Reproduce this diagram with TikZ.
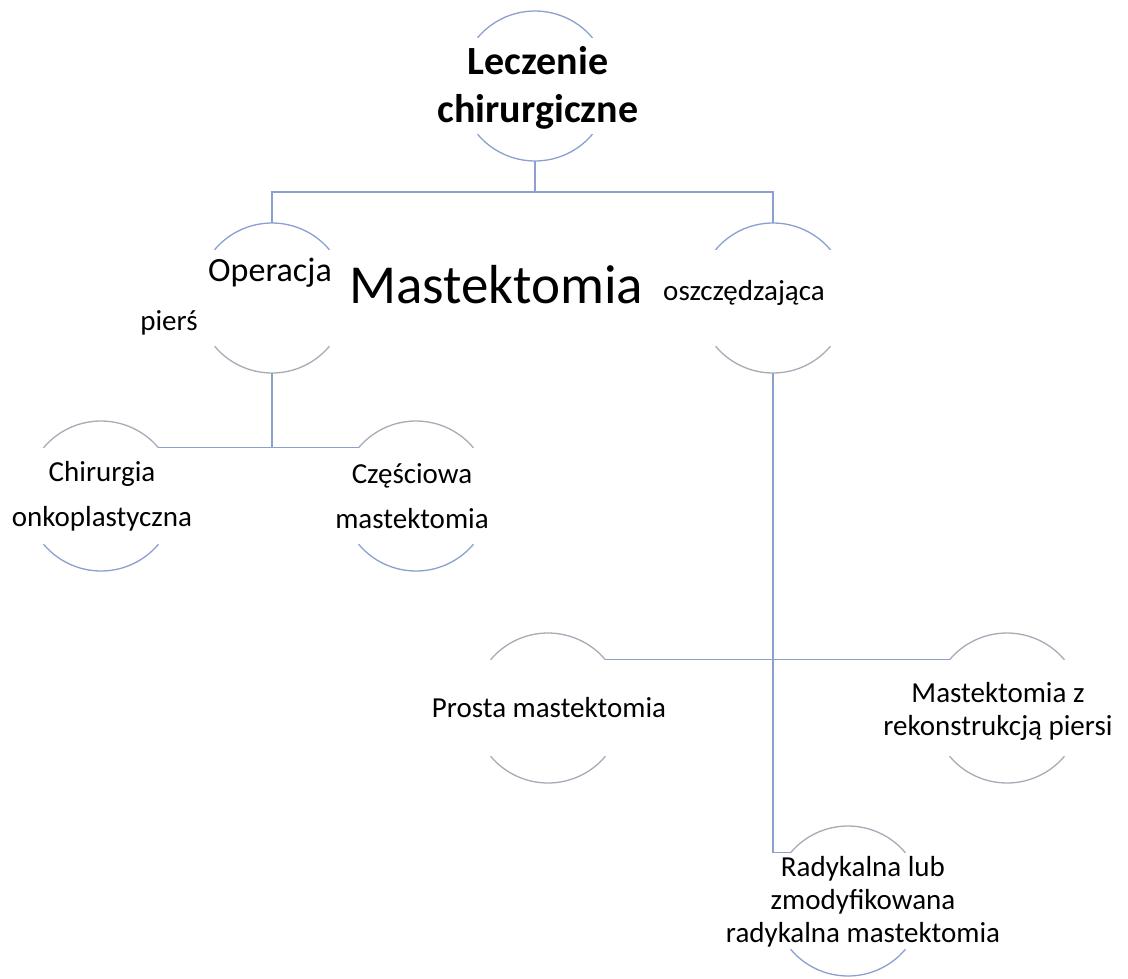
\documentclass[tikz,border=0pt]{standalone}
\usepackage{fontspec}
\setmainfont{Carlito}
\definecolor{linkblue}{RGB}{140,160,205}
\definecolor{arcblue}{RGB}{138,160,208}
\definecolor{arcgray}{RGB}{168,170,182}
% top and bottom arcs of a ring node: #1 node, #2 top colour, #3 bottom colour
\newcommand\ringarcs[3]{%
  \draw[#2,line width=1.3pt] (#1.40) arc[start angle=40,end angle=140,radius=75];
  \draw[#3,line width=1.3pt] (#1.220) arc[start angle=220,end angle=320,radius=75];}
\begin{document}
\begin{tikzpicture}[x=1pt,y=1pt,
  ring/.style={circle,minimum size=150pt,inner sep=0pt,outer sep=0pt,draw=none},
  link/.style={draw=linkblue,line width=1.3pt},
  lbl/.style={inner sep=0pt,align=center,font=\fontsize{29}{33}\selectfont},
  wide/.style={lbl,font=\fontsize{29}{45}\selectfont}]
\useasboundingbox (0,0) rectangle (1128,-978);
\fill[white] (0,0) rectangle (1128,-978);

% rings
\node[ring] (t)   at (535,-86)  {};
\node[ring] (op)  at (272,-298) {};
\node[ring] (osz) at (773,-298) {};
\node[ring] (ch)  at (101,-496) {};
\node[ring] (cz)  at (416,-496) {};
\node[ring] (pr)  at (548,-708) {};
\node[ring] (mz)  at (1007,-708) {};
\node[ring] (rad) at (848,-901) {};

\ringarcs{t}{arcblue}{arcblue}
\ringarcs{op}{arcblue}{arcgray}
\ringarcs{osz}{arcblue}{arcgray}
\ringarcs{ch}{arcgray}{arcblue}
\ringarcs{cz}{arcgray}{arcblue}
\ringarcs{pr}{arcgray}{arcgray}
\ringarcs{mz}{arcgray}{arcgray}
\ringarcs{rad}{arcgray}{arcblue}

% connectors
\coordinate (j1) at (535,-192);
\draw[link] (t.south) -- (j1);
\draw[link] (op.north) |- (j1) -| (osz.north);
\draw[link] (op.south) -- (op.south |- ch.40);
\draw[link] (ch.40) -- (cz.140);
\draw[link] (osz.south) |- (rad.140);
\draw[link] (pr.40) -- (mz.140);

% texts
\node[inner sep=0pt,align=center,font=\bfseries\fontsize{40}{48}\selectfont] (tt) at (538,-88) {Leczenie\\chirurgiczne};
\node[anchor=base,inner sep=0pt,font=\fontsize{34}{40}\selectfont] (opa) at (270,-281) {Operacja};
\node[anchor=base,inner sep=0pt,font=\fontsize{55}{60}\selectfont] (mas) at (496,-303) {Mastektomia};
\node[anchor=base,inner sep=0pt,font=\fontsize{29}{33}\selectfont] (oszt) at (744,-300) {oszczędzająca};
\node[anchor=base,inner sep=0pt,font=\fontsize{29}{33}\selectfont] (pie) at (169,-330) {pierś};
\node[wide] (cht) at (102,-496) {Chirurgia\\onkoplastyczna};
\node[wide] (czt) at (412,-496) {Częściowa\\mastektomia};
\node[lbl] (prt) at (549,-708) {Prosta mastektomia};
\node[lbl] (mzt) at (998,-711) {Mastektomia z\\rekonstrukcją piersi};
\node[lbl] (radt) at (863,-902) {Radykalna lub\\zmodyfikowana\\radykalna mastektomia};
\end{tikzpicture}
\end{document}
